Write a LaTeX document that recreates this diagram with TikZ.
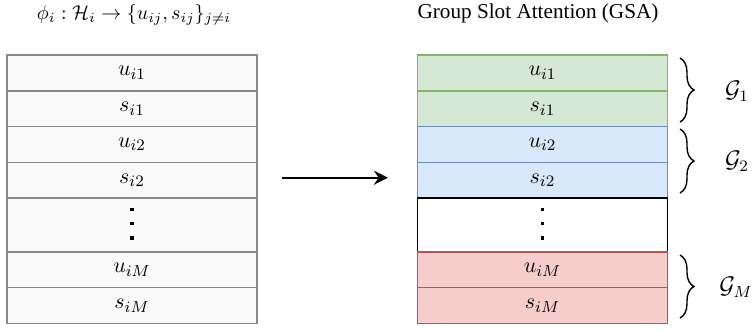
\documentclass[tikz,border=0pt]{standalone}
\usepackage{fontspec}
\newfontfamily\titlefont{Liberation Serif}
\usetikzlibrary{arrows.meta,decorations.pathreplacing}
\definecolor{lfill}{HTML}{FAFAFA}
\definecolor{ldraw}{HTML}{888888}
\definecolor{gfill}{HTML}{D5E8D4}
\definecolor{gdraw}{HTML}{82B366}
\definecolor{bfill}{HTML}{DAE8FC}
\definecolor{bdraw}{HTML}{6C8EBF}
\definecolor{rfill}{HTML}{F8CECC}
\definecolor{rdraw}{HTML}{B85450}
\begin{document}
\begin{tikzpicture}[x=0.5pt,y=-0.5pt,
  cell/.style={draw,line width=0.75pt,minimum width=125pt,minimum height=17.9pt,
    inner sep=0pt,outer sep=0pt,font=\fontsize{11}{13}\selectfont},
  lcell/.style={cell,draw=ldraw,fill=lfill},
  gcell/.style={cell,draw=gdraw,fill=gfill},
  bcell/.style={cell,draw=bdraw,fill=bfill},
  rcell/.style={cell,draw=rdraw,fill=rfill},
  ldots/.style={lcell,minimum height=26.85pt},
  rdots/.style={cell,draw=black,fill=white,minimum height=26.85pt},
  dotsq/.style={fill=black,minimum size=1.7pt,inner sep=0pt,outer sep=0pt},
  grpbrace/.style={decorate,decoration={brace,amplitude=7pt},line width=0.7pt},
  glabel/.style={font=\fontsize{11.5}{13}\selectfont},
  mapfont/.style={font=\fontsize{10.2}{12}\selectfont},
  titlestyle/.style={font=\titlefont\fontsize{10.6}{12}\selectfont},
  arr/.style={-{Stealth[length=7pt,width=7pt]},line width=0.9pt}
]
\useasboundingbox (0,0) rectangle (752,329);

% titles
\node[mapfont] (tl) at (134,15) {$\phi_i:\mathcal{H}_i\rightarrow\{u_{ij},s_{ij}\}_{j\neq i}$};
\node[titlestyle] (tr) at (538,13) {Group Slot Attention (GSA)};

% left stack
\node[lcell] (l1) at (132,72.9) {$u_{i1}$};
\node[lcell] (l2) at (132,108.7) {$s_{i1}$};
\node[lcell] (l3) at (132,144.5) {$u_{i2}$};
\node[lcell] (l4) at (132,180.3) {$s_{i2}$};
\node[ldots] (l5) at (132,225.05) {};
\node[lcell] (l6) at (132,269.8) {$u_{iM}$};
\node[lcell] (l7) at (132,305.6) {$s_{iM}$};
\node[dotsq] (ld1) at ([yshift=7.8pt]l5.center) {};
\node[dotsq] (ld2) at ([yshift=0.65pt]l5.center) {};
\node[dotsq] (ld3) at ([yshift=-6.55pt]l5.center) {};

% right stack
\node[gcell] (r1) at (542.5,72.9) {$u_{i1}$};
\node[gcell] (r2) at (542.5,108.7) {$s_{i1}$};
\node[bcell] (r3) at (542.5,144.5) {$u_{i2}$};
\node[bcell] (r4) at (542.5,180.3) {$s_{i2}$};
\node[rdots] (r5) at (542.5,225.05) {};
\node[rcell] (r6) at (542.5,269.8) {$u_{iM}$};
\node[rcell] (r7) at (542.5,305.6) {$s_{iM}$};
\node[dotsq] (rd1) at ([yshift=7.8pt]r5.center) {};
\node[dotsq] (rd2) at ([yshift=0.65pt]r5.center) {};
\node[dotsq] (rd3) at ([yshift=-6.55pt]r5.center) {};

% arrow
\coordinate (as) at (282,177.7);
\coordinate (ae) at (388,177.7);
\draw[arr] (as) -- (ae);

% braces
\coordinate (b1t) at (680,58);
\coordinate (b1b) at (680,122);
\coordinate (b2t) at (680,129);
\coordinate (b2b) at (680,193);
\coordinate (b3t) at (680,255);
\coordinate (b3b) at (680,318);
\draw[grpbrace] (b1t) -- (b1b);
\draw[grpbrace] (b2t) -- (b2b);
\draw[grpbrace] (b3t) -- (b3b);
\node[glabel] (g1) at (737,91) {$\mathcal{G}_1$};
\node[glabel] (g2) at (737,161) {$\mathcal{G}_2$};
\node[glabel] (gm) at (736,287) {$\mathcal{G}_M$};
\end{tikzpicture}
\end{document}
